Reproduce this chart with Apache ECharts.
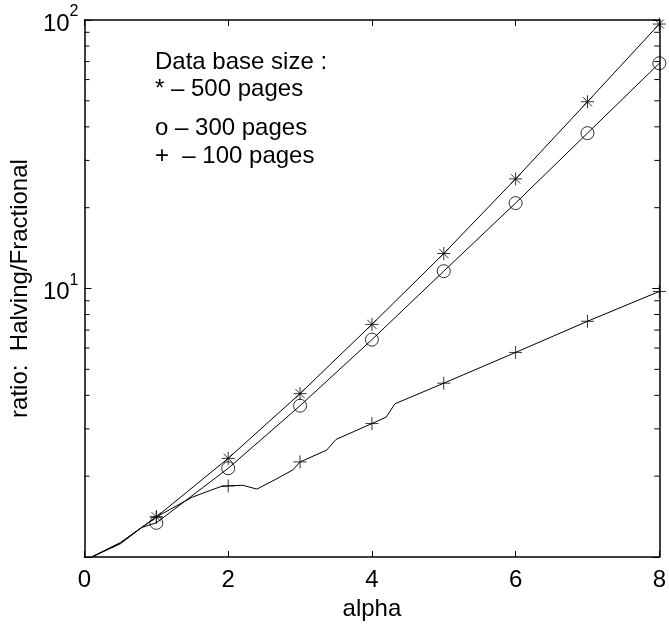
<!DOCTYPE html>
<html>
<head>
<meta charset="utf-8">
<script src="https://cdn.jsdelivr.net/npm/echarts@6/dist/echarts.min.js"></script>
<style>
html,body{margin:0;padding:0;background:#fff;}
#chart{width:669px;height:627px;}
</style>
</head>
<body>
<div id="chart"></div>
<script>
// ---- data ----
const markerAlpha = [1, 2, 3, 4, 5, 6, 7, 8];
const star500 = [1.41, 2.33, 4.06, 7.35, 13.5, 25.6, 49.6, 96.6];
const circ300 = [1.34, 2.14, 3.66, 6.45, 11.6, 20.8, 37.9, 69];
const plus100 = [1.41, 1.84, 2.26, 3.14, 4.44, 5.78, 7.55, 9.75];

const line500Alpha = [0.1, 0.5, 1, 2, 3, 4, 5, 6, 7, 8];
const line500Vals  = [1.0, 1.13, 1.41, 2.33, 4.06, 7.35, 13.5, 25.6, 49.6, 96.6];
const line300Alpha = [0.1, 0.5, 0.8, 1, 2, 3, 4, 5, 6, 7, 8];
const line300Vals  = [1.0, 1.12, 1.29, 1.34, 2.14, 3.66, 6.45, 11.6, 20.8, 37.9, 69];
const line100Alpha = [0.1, 0.5, 1, 1.5, 1.7, 1.9, 2, 2.2, 2.4, 2.65, 2.9, 3, 3.37, 3.5, 4, 4.2, 4.32, 5, 6, 7, 8];
const line100Vals  = [1.0, 1.13, 1.41, 1.67, 1.75, 1.83, 1.84, 1.85, 1.79, 1.94, 2.11, 2.26, 2.50, 2.74, 3.14, 3.32, 3.72, 4.44, 5.78, 7.55, 9.75];

const xTicks = [0, 2, 4, 6, 8];
const minorY = [2, 3, 4, 5, 6, 7, 8, 9, 20, 30, 40, 50, 60, 70, 80, 90];

const annotation = ['Data base size :', '* \u2013 500 pages', 'o \u2013 300 pages', '+  \u2013 100 pages'];

const xName = 'alpha';
const yName = 'ratio:  Halving/Fractional';

// ---- chart ----
const FONT = 'Liberation Sans';
const zip = (a, b) => a.map((v, i) => [v, b[i]]);

const starPath = 'path://M6,0L6,12M0,6L12,6M1.76,1.76L10.24,10.24M1.76,10.24L10.24,1.76';
const plusPath = 'path://M6,0L6,12M0,6L12,6';

const markerStyle = { color: 'rgba(0,0,0,0)', borderColor: '#000', borderWidth: 1 };

const chart = echarts.init(document.getElementById('chart'), null, { renderer: 'canvas' });

const axisLine = { show: true, onZero: false, lineStyle: { color: '#000', width: 1.5 } };

chart.setOption({
  animation: false,
  backgroundColor: '#fff',
  textStyle: { fontFamily: FONT },
  grid: { left: 82, right: 7, top: 20, bottom: 70, containLabel: false },
  xAxis: [
    {
      type: 'value', min: 0, max: 8, interval: 2, position: 'bottom',
      name: xName, nameLocation: 'middle', nameGap: 34,
      nameTextStyle: { fontFamily: FONT, fontSize: 24, color: '#000' },
      axisLine: axisLine,
      axisTick: { show: true, inside: true, length: 6, lineStyle: { color: '#000' } },
      axisLabel: { fontFamily: FONT, fontSize: 24, color: '#000', margin: 11,
        formatter: v => (xTicks.indexOf(v) >= 0 ? String(v) : '') },
      splitLine: { show: false }
    },
    {
      type: 'value', min: 0, max: 8, interval: 2, position: 'top',
      axisLine: axisLine,
      axisTick: { show: true, inside: true, length: 6, lineStyle: { color: '#000' } },
      axisLabel: { show: false },
      splitLine: { show: false }
    }
  ],
  yAxis: [
    {
      type: 'log', logBase: 10, min: 1, max: 100, position: 'left',
      name: yName, nameLocation: 'middle', nameGap: 50, nameRotate: 90,
      nameTextStyle: { fontFamily: FONT, fontSize: 24, color: '#000' },
      axisLine: axisLine,
      axisTick: { show: true, inside: true, length: 7, lineStyle: { color: '#000' } },
      axisLabel: {
        margin: 6, color: '#000',
        formatter: function (v) {
          const e = Math.round(Math.log10(v));
          if (e === 0) return '';
          return '{b|10}{s|' + e + '}';
        },
        rich: {
          b: { fontFamily: FONT, fontSize: 24, lineHeight: 32, verticalAlign: 'bottom', color: '#000' },
          s: { fontFamily: FONT, fontSize: 16, lineHeight: 16, verticalAlign: 'top', color: '#000' }
        }
      },
      splitLine: { show: false },
      minorTick: { show: false }
    },
    {
      type: 'log', logBase: 10, min: 1, max: 100, position: 'right',
      axisLine: axisLine,
      axisTick: { show: true, inside: true, length: 7, lineStyle: { color: '#000' } },
      axisLabel: { show: false },
      splitLine: { show: false }
    }
  ],
  graphic: annotation.map((t, i) => ({
    type: 'text',
    left: 155,
    top: [50, 77, 116, 144][i],
    style: { text: t, fontFamily: FONT, fontSize: 24, fill: '#000' },
    silent: true
  })),
  series: [
    {
      type: 'custom',
      xAxisIndex: 0, yAxisIndex: 0,
      silent: true, clip: false,
      data: minorY.map(v => [0, v]),
      renderItem: function (params, api) {
        const p = api.coord([0, api.value(1)]);
        const cs = params.coordSys;
        const ls = { stroke: '#000', lineWidth: 1 };
        return {
          type: 'group',
          children: [
            { type: 'line', shape: { x1: cs.x, y1: p[1], x2: cs.x + 5, y2: p[1] }, style: ls },
            { type: 'line', shape: { x1: cs.x + cs.width - 5, y1: p[1], x2: cs.x + cs.width, y2: p[1] }, style: ls }
          ]
        };
      }
    },
    { type: 'line', data: zip(line500Alpha, line500Vals), showSymbol: false, lineStyle: { color: '#000', width: 1 }, silent: true },
    { type: 'line', data: zip(line300Alpha, line300Vals), showSymbol: false, lineStyle: { color: '#000', width: 1 }, silent: true },
    { type: 'line', data: zip(line100Alpha, line100Vals), showSymbol: false, lineStyle: { color: '#000', width: 1 }, silent: true },
    { type: 'scatter', data: zip(markerAlpha, star500), symbol: starPath, symbolSize: 13, itemStyle: markerStyle, silent: true, clip: false },
    { type: 'scatter', data: zip(markerAlpha, circ300), symbol: 'circle', symbolSize: 13, itemStyle: markerStyle, silent: true, clip: false },
    { type: 'scatter', data: zip(markerAlpha, plus100), symbol: plusPath, symbolSize: 13, itemStyle: markerStyle, silent: true, clip: false }
  ]
});
</script>
</body>
</html>
